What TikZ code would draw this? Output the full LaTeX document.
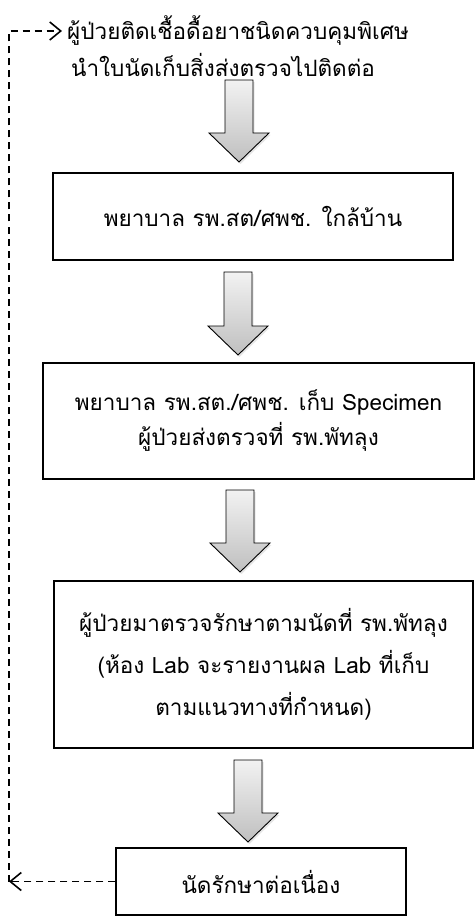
\documentclass[tikz,border=0pt]{standalone}
\usepackage{fontspec}
\setmainfont[Script=Thai]{Loma}
\usetikzlibrary{arrows.meta,shadows}

\tikzset{
  stepbox/.style={draw, line width=1.1pt, align=center, inner sep=0pt,
    font=\fontsize{22.5}{39}\selectfont},
  blockarrow/.style={draw, line width=0.9pt, top color=gray!10, bottom color=gray!50,
    drop shadow={opacity=0.2, shadow xshift=1.5pt, shadow yshift=-2pt}},
  loopline/.style={line width=1.3pt, dash pattern=on 7pt off 5pt},
  barb/.style={-{Straight Barb[length=11pt,width=18pt,line width=1.6pt]}},
}

\begin{document}
\begin{tikzpicture}[x=1pt,y=1pt]
  \useasboundingbox (0,0) rectangle (475,-917);

  % top note
  \node[anchor=west, align=left, inner sep=2pt, font=\fontsize{22.5}{37}\selectfont]
    (note) at (65,-46) {ผู้ป่วยติดเชื้อดื้อยาชนิดควบคุมพิเศษ\\\hspace*{4pt}นำใบนัดเก็บสิ่งส่งตรวจไปติดต่อ};

  % boxes
  \node[stepbox, minimum width=400pt, minimum height=87pt] (nurse) at (253,-216.5)
    {พยาบาล รพ.สต/ศพช. ใกล้บ้าน};
  \node[stepbox, minimum width=431pt, minimum height=116pt, font=\fontsize{22.5}{35}\selectfont]
    (collect) at (258.5,-421) {พยาบาล รพ.สต./ศพช. เก็บ Specimen\\ผู้ป่วยส่งตรวจที่ รพ.พัทลุง};
  \node[stepbox, minimum width=419pt, minimum height=167pt, font=\fontsize{22.5}{42}\selectfont]
    (visit) at (263.5,-664.5) {ผู้ป่วยมาตรวจรักษาตามนัดที่ รพ.พัทลุง\\(ห้อง Lab จะรายงานผล Lab ที่เก็บ\\ตามแนวทางที่กำหนด)};
  \node[stepbox, minimum width=290pt, minimum height=67pt] (followup) at (261,-881.5)
    {นัดรักษาต่อเนื่อง};

  % block arrows
  \foreach \x/\ytop/\ytip in {239/80/162, 238/272/355, 240/490/572, 248/760/842}
    \draw[blockarrow] (\x-14,-\ytop) -- (\x+14,-\ytop) -- (\x+14,-\ytip+29)
      -- (\x+30,-\ytip+29) -- (\x,-\ytip) -- (\x-30,-\ytip+29)
      -- (\x-14,-\ytip+29) -- cycle;

  % loop back
  \coordinate (loopbot) at (9,-881.5);
  \coordinate (looptop) at (9,-31);
  \coordinate (noteend) at (62,-31);
  \draw[loopline, barb] (followup.west) -- (loopbot);
  \draw[loopline, barb] (loopbot) -- (looptop) -- (noteend);
\end{tikzpicture}
\end{document}
